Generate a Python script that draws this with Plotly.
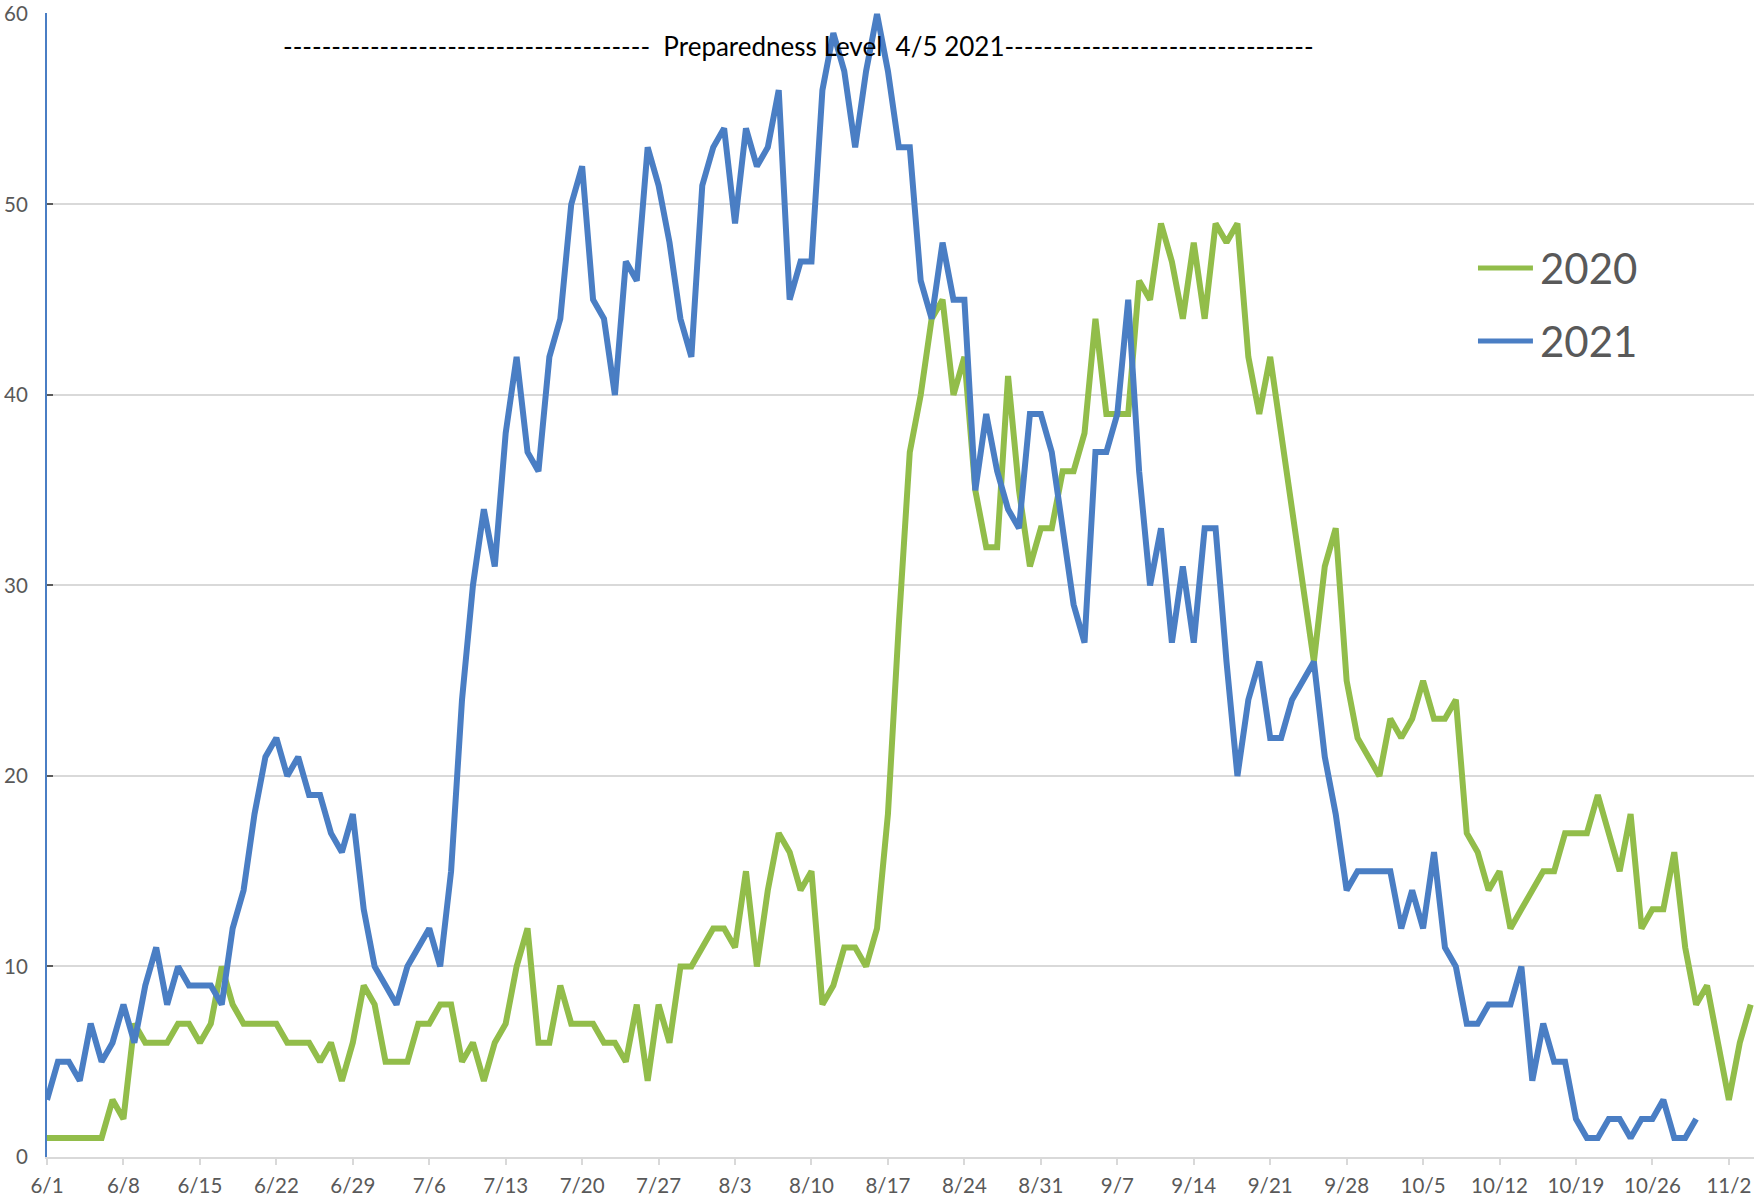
import pandas as pd
import plotly.graph_objects as go

# ---- data -------------------------------------------------------------
dates = [f"{d.month}/{d.day}" for d in pd.date_range("2021-06-01", periods=157)]

tick_labels = ["6/1", "6/8", "6/15", "6/22", "6/29", "7/6", "7/13", "7/20", "7/27",
               "8/3", "8/10", "8/17", "8/24", "8/31", "9/7", "9/14", "9/21", "9/28",
               "10/5", "10/12", "10/19", "10/26", "11/2"]

y_ticks = [0, 10, 20, 30, 40, 50, 60]

values_2020 = [
    1, 1, 1, 1, 1, 1, 3, 2, 7, 6,            # 6/1 - 6/10
    6, 6, 7, 7, 6, 7, 10, 8, 7, 7,           # 6/11 - 6/20
    7, 7, 6, 6, 6, 5, 6, 4, 6, 9,            # 6/21 - 6/30
    8, 5, 5, 5, 7, 7, 8, 8, 5, 6,            # 7/1 - 7/10
    4, 6, 7, 10, 12, 6, 6, 9, 7, 7,          # 7/11 - 7/20
    7, 6, 6, 5, 8, 4, 8, 6, 10, 10,          # 7/21 - 7/30
    11, 12, 12, 11, 15, 10, 14, 17, 16, 14,  # 7/31 - 8/9
    15, 8, 9, 11, 11, 10, 12, 18, 28, 37,    # 8/10 - 8/19
    40, 44, 45, 40, 42, 35, 32, 32, 41, 35,  # 8/20 - 8/29
    31, 33, 33, 36, 36, 38, 44, 39, 39, 39,  # 8/30 - 9/8
    46, 45, 49, 47, 44, 48, 44, 49, 48, 49,  # 9/9 - 9/18
    42, 39, 42, 38, 34, 30, 26, 31, 33, 25,  # 9/19 - 9/28
    22, 21, 20, 23, 22, 23, 25, 23, 23, 24,  # 9/29 - 10/8
    17, 16, 14, 15, 12, 13, 14, 15, 15, 17,  # 10/9 - 10/18
    17, 17, 19, 17, 15, 18, 12, 13, 13, 16,  # 10/19 - 10/28
    11, 8, 9, 6, 3, 6, 8,                    # 10/29 - 11/4
]

values_2021 = [
    3, 5, 5, 4, 7, 5, 6, 8, 6, 9,            # 6/1 - 6/10
    11, 8, 10, 9, 9, 9, 8, 12, 14, 18,       # 6/11 - 6/20
    21, 22, 20, 21, 19, 19, 17, 16, 18, 13,  # 6/21 - 6/30
    10, 9, 8, 10, 11, 12, 10, 15, 24, 30,    # 7/1 - 7/10
    34, 31, 38, 42, 37, 36, 42, 44, 50, 52,  # 7/11 - 7/20
    45, 44, 40, 47, 46, 53, 51, 48, 44, 42,  # 7/21 - 7/30
    51, 53, 54, 49, 54, 52, 53, 56, 45, 47,  # 7/31 - 8/9
    47, 56, 59, 57, 53, 57, 60, 57, 53, 53,  # 8/10 - 8/19
    46, 44, 48, 45, 45, 35, 39, 36, 34, 33,  # 8/20 - 8/29
    39, 39, 37, 33, 29, 27, 37, 37, 39, 45,  # 8/30 - 9/8
    36, 30, 33, 27, 31, 27, 33, 33, 26, 20,  # 9/9 - 9/18
    24, 26, 22, 22, 24, 25, 26, 21, 18, 14,  # 9/19 - 9/28
    15, 15, 15, 15, 12, 14, 12, 16, 11, 10,  # 9/29 - 10/8
    7, 7, 8, 8, 8, 10, 4, 7, 5, 5,           # 10/9 - 10/18
    2, 1, 1, 2, 2, 1, 2, 2, 3, 1,            # 10/19 - 10/28
    1, 2,                                    # 10/29 - 10/30
]

series_names = ["2020", "2021"]
series_colors = ["#92bd4a", "#4a7ec4"]

annotation_text = ("-" * 38 + "  Preparedness Level  4/5 2021" + "-" * 32)

# ---- figure -----------------------------------------------------------
FONT = "Lato, 'Open Sans', sans-serif"
GRAY = "#595959"
GRID = "#d9d9d9"

fig = go.Figure()
for name, vals, col in zip(series_names, [values_2020, values_2021], series_colors):
    fig.add_trace(go.Scatter(
        x=dates[:len(vals)], y=vals, mode="lines", name=name,
        line=dict(color=col, width=6), showlegend=False,
    ))

# manual legend (long line samples like the original)
legend_y = [0.7771, 0.7133]
for name, col, ly in zip(series_names, series_colors, legend_y):
    fig.add_shape(type="line", xref="paper", yref="paper",
                  x0=0.8383, x1=0.8705, y0=ly, y1=ly,
                  line=dict(color=col, width=5))
    fig.add_annotation(xref="paper", yref="paper", x=0.8735, y=ly,
                       text=name, showarrow=False, xanchor="left", yanchor="middle",
                       font=dict(family=FONT, size=42, color=GRAY))

fig.add_annotation(xref="paper", yref="paper", x=0.44, y=0.9712,
                   text=annotation_text, showarrow=False,
                   xanchor="center", yanchor="middle",
                   font=dict(family=FONT, size=26, color="#000000"))

fig.update_layout(
    width=1754, height=1203,
    margin=dict(l=47, r=0, t=13, b=46, autoexpand=False),
    paper_bgcolor="white", plot_bgcolor="white",
    font=dict(family=FONT, color=GRAY),
    xaxis=dict(
        type="category", categoryorder="array", categoryarray=dates,
        range=[0, 156.3], automargin=False,
        tickmode="array", tickvals=tick_labels, ticktext=tick_labels,
        showgrid=False, zeroline=False,
        showline=True, linecolor=GRID, linewidth=1.5,
        ticks="outside", ticklen=6, tickcolor=GRID, tickwidth=1.5,
        tickfont=dict(family=FONT, size=20.5, color=GRAY),
        ticklabelstandoff=4, ticklabeloverflow="allow",
    ),
    yaxis=dict(
        range=[0, 60.05], automargin=False, tickmode="array", tickvals=y_ticks,
        showgrid=True, gridcolor=GRID, gridwidth=1.5, zeroline=False,
        showline=True, linecolor="#4a7ec4", linewidth=2,
        ticks="inside", ticklen=6, tickcolor=GRAY, tickwidth=1.5,
        tickfont=dict(family=FONT, size=20.5, color=GRAY),
        ticklabelstandoff=13, ticklabeloverflow="allow",
    ),
)

fig.write_html(
    "out.html",
    config={"displayModeBar": False},
    post_script="document.body.style.margin='0';document.body.style.overflow='hidden';",
)
